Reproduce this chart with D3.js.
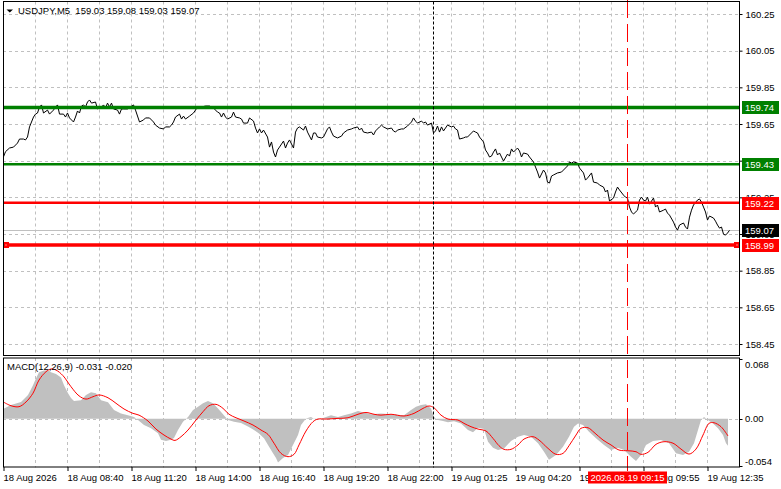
<!DOCTYPE html>
<html><head><meta charset="utf-8">
<script src="https://cdn.jsdelivr.net/npm/d3@7"></script>
<style>
body{margin:0;background:#fff}
svg{display:block}
text{font-family:"Liberation Sans",Arial,sans-serif;font-size:9.5px}
</style></head>
<body><svg id="c" width="781" height="489"></svg>
<script>
// ---------------- DATA ----------------
const symbolTitle = "USDJPY,M5";
const ohlc = [159.03, 159.08, 159.03, 159.07];
const macdTitle = "MACD(12,26,9) -0.031 -0.020";

// close prices (bar index, 5-minute bars)
const priceBars = [0,1,3,5,7,8,10,11,12,13,15,16,17,18,19,20,22,23,25,26,27,28,30,31,32,33,35,36,37,38,39,40,41,42,43,44,46,47,49,50,51,52,53,54,55,57,58,59,60,62,65,66,68,70,71,73,75,76,78,80,81,83,84,85,86,88,89,90,91,93,95,96,97,99,101,103,104,105,107,108,109,110,111,112,114,115,116,118,119,120,122,123,125,126,127,128,129,130,132,133,134,135,136,137,138,140,141,142,143,145,146,147,148,150,151,152,154,155,156,157,159,160,162,163,164,165,167,169,170,172,174,175,177,178,179,180,182,184,185,186,188,189,190,192,194,195,196,197,199,200,202,204,205,206,207,209,210,211,212,214,215,216,217,218,219,220,221,222,224,225,226,227,228,230,231,232,234,235,236,237,238,240,241,242,243,244,245,246,247,248,249,250,252,253,254,255,257,258,259,260,262,263,265,266,267,268,270,271,272,273,274,275,277,279,280,282,283,284,285,287,288,290,291,292,294,295,297,298,300,301,302,303,305,306,307,308,310,311,312,313,314,315,317,318,319,320,321,322,323,325,326,327,328,330,331,332,333,335,336,337,338,340,341,342,343,344,345,347,348,349,350,351,352,353,355,356,357,358,359,360,361,362,363];
const priceClose = [159.471,159.499,159.519,159.524,159.546,159.568,159.568,159.563,159.579,159.634,159.688,159.704,159.710,159.743,159.754,159.710,159.726,159.704,159.726,159.743,159.754,159.704,159.704,159.688,159.710,159.683,159.661,159.688,159.721,159.710,159.748,159.754,159.743,159.770,159.781,159.764,159.770,159.732,159.743,159.754,159.737,159.764,159.743,159.764,159.732,159.726,159.704,159.732,159.732,159.732,159.754,159.726,159.661,159.672,159.683,159.683,159.661,159.644,159.628,159.623,159.634,159.634,159.644,159.661,159.688,159.704,159.677,159.693,159.677,159.693,159.710,159.726,159.743,159.743,159.748,159.748,159.743,159.737,159.715,159.710,159.688,159.710,159.688,159.677,159.688,159.715,159.688,159.683,159.677,159.655,159.655,159.683,159.666,159.628,159.601,159.623,159.601,159.617,159.579,159.524,159.552,159.497,159.470,159.508,159.524,159.557,159.519,159.546,159.563,159.519,159.606,159.628,159.634,159.617,159.639,159.606,159.563,159.601,159.601,159.579,159.574,159.579,159.623,159.634,159.606,159.584,159.574,159.584,159.601,159.617,159.623,159.628,159.634,159.617,159.628,159.606,159.601,159.606,159.590,159.612,159.634,159.644,159.634,159.623,159.628,159.612,159.606,159.617,159.623,159.623,159.639,159.661,159.683,159.666,159.655,159.666,159.655,159.661,159.644,159.655,159.601,159.612,159.639,159.606,159.634,159.612,159.628,159.644,159.634,159.639,159.623,159.617,159.568,159.574,159.579,159.579,159.601,159.612,159.606,159.601,159.579,159.552,159.508,159.492,159.470,159.475,159.497,159.514,159.481,159.492,159.470,159.448,159.486,159.475,159.514,159.497,159.519,159.503,159.470,159.492,159.486,159.470,159.443,159.415,159.388,159.355,159.399,159.383,159.333,159.328,159.366,159.372,159.383,159.388,159.399,159.421,159.443,159.437,159.443,159.437,159.410,159.383,159.344,159.355,159.383,159.333,159.328,159.317,159.306,159.279,159.290,159.230,159.246,159.279,159.306,159.290,159.262,159.251,159.246,159.197,159.170,159.159,159.180,159.235,159.251,159.235,159.230,159.251,159.213,159.246,159.197,159.208,159.170,159.180,159.186,159.164,159.153,159.115,159.088,159.071,159.099,159.110,159.088,159.077,159.142,159.180,159.208,159.235,159.241,159.224,159.197,159.170,159.126,159.148,159.137,159.120,159.099,159.082,159.088,159.049,159.044,159.055,159.070];

// MACD histogram (main line) samples
const histBars = [0,3.5,8.5,12,14.5,16,17.5,20,22,23.5,26,28.5,30,32,33.5,35,38.5,41,43.5,46,48.5,52,55,58.5,62,65,67,70,73.5,77,78.5,81,83.5,85,87,89.5,92,94.5,97,99.5,102,104.5,107,109.5,112,115,118.5,122,125,127.5,130,132,134.5,136,137,139.5,142,144.5,147,148.5,151,153.5,156,158.5,161,163.5,167,170,173.5,177,180,183.5,188.5,193.5,200,203.5,206,208.5,211,213.5,215,217,219.5,222,225,228.5,232,234.5,237,240,242,244.5,247,250,253.5,257,260,263.5,267,270,272.5,276,279.5,282.5,285,287,289.5,292.5,296,300,303.5,307,310,313.5,316,318.5,321,324.5,328.5,332.5,336,339.5,342.5,345,347,348.5,350,352,354.5,357,359.5,361,362];
const histVals = [0.0117,0.0155,0.019,0.027,0.038,0.046,0.053,0.055,0.055,0.053,0.051,0.047,0.038,0.029,0.0235,0.020,0.021,0.027,0.030,0.029,0.021,0.0186,0.0098,0.006,0.004,0.002,-0.0016,-0.0073,-0.011,-0.0168,-0.024,-0.0255,-0.024,-0.022,-0.013,-0.0035,0.002,0.0098,0.0136,0.0175,0.020,0.0175,0.0117,0.005,-0.0016,-0.0035,-0.005,-0.009,-0.013,-0.017,-0.0225,-0.030,-0.0396,-0.045,-0.050,-0.045,-0.0415,-0.030,-0.0187,-0.0073,0.0003,0.002,-0.0016,0,0.002,0.004,0.002,0.004,0.006,0.0087,0.007,0.005,0.006,0.005,0.004,0.0098,0.0136,0.0155,0.0163,0.0117,0.002,-0.0016,-0.0027,-0.004,-0.003,-0.0054,-0.013,-0.0156,-0.0104,-0.0119,-0.0263,-0.0332,-0.0358,-0.034,-0.0255,-0.0206,-0.0187,-0.0206,-0.028,-0.0377,-0.047,-0.0415,-0.032,-0.0206,-0.0092,-0.0054,-0.0073,-0.015,-0.0225,-0.030,-0.0358,-0.0332,-0.0358,-0.0434,-0.0483,-0.0415,-0.030,-0.0255,-0.0244,-0.028,-0.0396,-0.0415,-0.0377,-0.028,-0.013,-0.0016,0.002,-0.0016,-0.0054,-0.011,-0.0187,-0.028,-0.031];

// MACD signal line samples
const sigBars = [0,3.5,7.5,11,14.5,17.5,21,23.5,26,29.5,33.5,37.5,41,44.5,47.5,52,56,60,64.5,67.5,72,76,80,83.5,85.5,88.5,92,96,99.5,102.5,106,109.5,112.5,116,120,124.5,128.5,132,135,138.5,142,145,147.5,151,154.5,157,161,167,172,177,181,185,188.5,193.5,200,205,209.5,212.5,215,218.5,222,227,230,233.5,237,241,244.5,247.5,250,253.5,257,260,264.5,267.5,272,276,279.5,282.5,286,288.5,292,295,299.5,303.5,307.5,312,316,318.5,322,326,330,334.5,338.5,342.5,346,349.5,352.5,355,358.5,362];
const sigVals = [0.0186,0.0147,0.0136,0.019,0.029,0.044,0.0535,0.0566,0.0554,0.049,0.0364,0.026,0.0223,0.025,0.027,0.0238,0.0175,0.011,0.006,0.004,-0.0027,-0.0119,-0.0187,-0.0233,-0.0248,-0.0206,-0.013,-0.0016,0.0079,0.0147,0.0163,0.0117,0.005,0.001,-0.0027,-0.0073,-0.013,-0.018,-0.028,-0.0396,-0.0434,-0.0407,-0.030,-0.0141,-0.0035,-0.0005,-0.0005,0.0003,0.001,0.005,0.007,0.005,0.004,0.005,0.003,0.006,0.0117,0.0144,0.0124,0.004,-0.0005,-0.0016,-0.0054,-0.0092,-0.0119,-0.0141,-0.0225,-0.0309,-0.035,-0.035,-0.030,-0.0233,-0.0206,-0.0244,-0.0339,-0.0407,-0.0396,-0.0309,-0.0187,-0.011,-0.0104,-0.0156,-0.0244,-0.030,-0.0358,-0.0366,-0.0377,-0.0407,-0.0384,-0.0293,-0.0263,-0.028,-0.0347,-0.0404,-0.0347,-0.0187,-0.0054,-0.0047,-0.0092,-0.0198];

// axes
const priceTicks = [160.25,160.05,159.85,159.65,159.45,159.25,159.05,158.85,158.65,158.45];
const macdTicks = [0.068, 0, -0.054];
const macdTickLabels = ["0.068","0.00","-0.054"];
const timeTickBars = [0,32,64,96,128,160,192,224,256,288,320,352];
const timeTickLabels = ["18 Aug 2026","18 Aug 08:40","18 Aug 11:20","18 Aug 14:00","18 Aug 16:40","18 Aug 19:20","18 Aug 22:00","19 Aug 01:25","19 Aug 04:20","19 Aug 07:15","19 Aug 09:55","19 Aug 12:35"];

// horizontal levels & markers
const levelPrices = [159.74, 159.43, 159.22, 158.99];
const currentPrice = 159.07;
const sepBar = 215;          // black dotted separator
const cursorBar = 312;       // red dashed time marker
const cursorLabel = "2026.08.19 09:15";

// ---------------- STYLE / LAYOUT ----------------
const levelColors = ["#008000","#008000","#ff0000","#ff0000"];
const levelWidths = [3.5, 2.5, 2.5, 3.5];
const L = 3, R = 740, mainTop = 1.5, mainBot = 355.5, macdTop = 358, macdBot = 467.5;
const gridColor = "#c0c0c0";

const svg = d3.select("#c");
const x = d3.scaleLinear().domain([0, 1]).range([L, L + 2]);
const y = d3.scaleLinear().domain([158.45, 160.25]).range([344, 14]);
const ym = d3.scaleLinear().domain([-0.054, 0.068]).range([466, 359]);
const crisp = v => Math.round(v) + 0.5;

svg.append("rect").attr("width",781).attr("height",489).attr("fill","#fff");

const defs = svg.append("defs");
defs.append("clipPath").attr("id","clipMain").append("rect")
  .attr("x",L).attr("y",mainTop).attr("width",R-L).attr("height",mainBot-mainTop);
defs.append("clipPath").attr("id","clipMacd").append("rect")
  .attr("x",L).attr("y",macdTop).attr("width",R-L).attr("height",macdBot-macdTop);

// grid
const gridBars = d3.range(16, 368, 16);
const g = svg.append("g").attr("stroke", gridColor).attr("stroke-dasharray","3,3").attr("stroke-width",1);
g.selectAll(".vm").data(gridBars).join("line")
  .attr("x1",d=>crisp(x(d))).attr("x2",d=>crisp(x(d))).attr("y1",mainTop).attr("y2",mainBot);
g.selectAll(".vd").data(gridBars).join("line")
  .attr("x1",d=>crisp(x(d))).attr("x2",d=>crisp(x(d))).attr("y1",macdTop).attr("y2",macdBot);
g.selectAll(".h").data(priceTicks).join("line")
  .attr("x1",L).attr("x2",R).attr("y1",d=>crisp(y(d))).attr("y2",d=>crisp(y(d)));
g.append("line").attr("x1",L).attr("x2",R).attr("y1",crisp(ym(0))).attr("y2",crisp(ym(0)));

// MACD panel
const mg = svg.append("g").attr("clip-path","url(#clipMacd)");
mg.append("path").datum(histVals)
  .attr("d", d3.area().x((d,i)=>x(histBars[i])+1).y0(ym(0)).y1(d=>ym(d)))
  .attr("fill","#c0c0c0");
mg.append("path").datum(sigVals)
  .attr("d", d3.line().x((d,i)=>x(sigBars[i])+1).y(d=>ym(d)).curve(d3.curveCatmullRom))
  .attr("fill","none").attr("stroke","#ff0000").attr("stroke-width",1);

// main panel
const pg = svg.append("g").attr("clip-path","url(#clipMain)");
pg.append("line").attr("x1",L).attr("x2",R)
  .attr("y1",crisp(y(currentPrice))).attr("y2",crisp(y(currentPrice)))
  .attr("stroke","#c0c0c0").attr("stroke-width",1);
pg.append("path").datum(priceClose)
  .attr("d", d3.line().x((d,i)=>x(priceBars[i])+0.5).y(d=>y(d)))
  .attr("fill","none").attr("stroke","#000").attr("stroke-width",1);
pg.selectAll(".lvl").data(levelPrices).join("line")
  .attr("x1",L).attr("x2",R).attr("y1",d=>y(d)).attr("y2",d=>y(d))
  .attr("stroke",(d,i)=>levelColors[i]).attr("stroke-width",(d,i)=>levelWidths[i]);
// end markers on last level
const lastLvl = levelPrices[3];
[L+3, R-3].forEach(cx=>{
  pg.append("rect").attr("x",cx-3).attr("y",y(lastLvl)-3).attr("width",6).attr("height",6).attr("fill","#ff0000");
  pg.append("rect").attr("x",cx-0.5).attr("y",y(lastLvl)-0.5).attr("width",1).attr("height",1).attr("fill","#fff");
});

// vertical lines
svg.append("line").attr("x1",crisp(x(sepBar))).attr("x2",crisp(x(sepBar))).attr("y1",mainTop).attr("y2",macdBot)
  .attr("stroke","#000").attr("stroke-dasharray","3,2").attr("stroke-width",1);
svg.append("line").attr("x1",crisp(x(cursorBar))).attr("x2",crisp(x(cursorBar))).attr("y1",0).attr("y2",471)
  .attr("stroke","#ff0000").attr("stroke-dasharray","18,6").attr("stroke-width",1);

// frames
const fr = svg.append("g").attr("fill","none").attr("stroke","#000").attr("stroke-width",1);
fr.append("rect").attr("x",L+0.5).attr("y",mainTop).attr("width",R-L-1).attr("height",mainBot-mainTop);
fr.append("rect").attr("x",L+0.5).attr("y",macdTop).attr("width",R-L-1).attr("height",macdBot-macdTop-0.5);

// right price axis
const ay = svg.append("g").attr("transform",`translate(${R-0.5},0)`)
  .call(d3.axisRight(y).tickValues(priceTicks).tickFormat(d3.format(".2f")).tickSize(3).tickPadding(3));
ay.select(".domain").remove();
ay.selectAll("text").attr("font-family","Liberation Sans, Arial, sans-serif").attr("font-size","9.5px").attr("fill","#000").attr("dy","0.35em");
ay.selectAll("line").attr("stroke","#000");

// MACD axis
const am = svg.append("g");
am.selectAll("line").data(macdTicks).join("line")
  .attr("x1",R-0.5).attr("x2",R+2.5).attr("y1",d=>crisp(ym(d))).attr("y2",d=>crisp(ym(d))).attr("stroke","#000");
am.selectAll("text").data(macdTicks).join("text")
  .attr("x",745).attr("y",d=>Math.min(465, Math.max(368, ym(d)+3.5)))
  .attr("fill","#000").text((d,i)=>macdTickLabels[i]);

// bottom time axis
const ax = svg.append("g").attr("transform",`translate(0,${macdBot-0.5})`)
  .call(d3.axisBottom(x).tickValues(timeTickBars).tickFormat((d,i)=>timeTickLabels[i]).tickSize(4).tickPadding(2));
ax.select(".domain").remove();
ax.selectAll("line").attr("stroke","#000").attr("transform","translate(0.5,0)");
ax.selectAll("text").attr("text-anchor","start").attr("font-family","Liberation Sans, Arial, sans-serif")
  .attr("font-size","9.5px").attr("fill","#000").attr("y",13.5).attr("dy",0);

// level boxes on price axis
const boxes = svg.append("g");
const boxData = levelPrices.map((p,i)=>({p, c: levelColors[i]})).concat([{p: currentPrice, c:"#000"}]);
boxes.selectAll("rect").data(boxData).join("rect")
  .attr("x",742).attr("y",d=>Math.round(y(d.p))-6).attr("width",37).attr("height",13).attr("fill",d=>d.c);
boxes.selectAll("text").data(boxData).join("text")
  .attr("x",745).attr("y",d=>Math.round(y(d.p))+3.5).attr("fill","#fff").text(d=>d3.format(".2f")(d.p));

// bottom cursor time box
const cx = crisp(x(cursorBar));
svg.append("rect").attr("x",cx-39.5).attr("y",471.5).attr("width",79).attr("height",12).attr("fill","#ff0000");
svg.append("text").attr("x",cx).attr("y",481).attr("text-anchor","middle").attr("fill","#fff").text(cursorLabel);

// titles
svg.append("path").attr("d","M6.5,9.5 L13,9.5 L9.75,12.5 Z").attr("fill","#000");
svg.append("text").attr("x",18).attr("y",14).attr("fill","#000").attr("xml:space","preserve")
  .text(symbolTitle + "  " + ohlc.map(d3.format(".2f")).join(" "));
svg.append("text").attr("x",7).attr("y",370).attr("fill","#000").text(macdTitle);
</script></body></html>
